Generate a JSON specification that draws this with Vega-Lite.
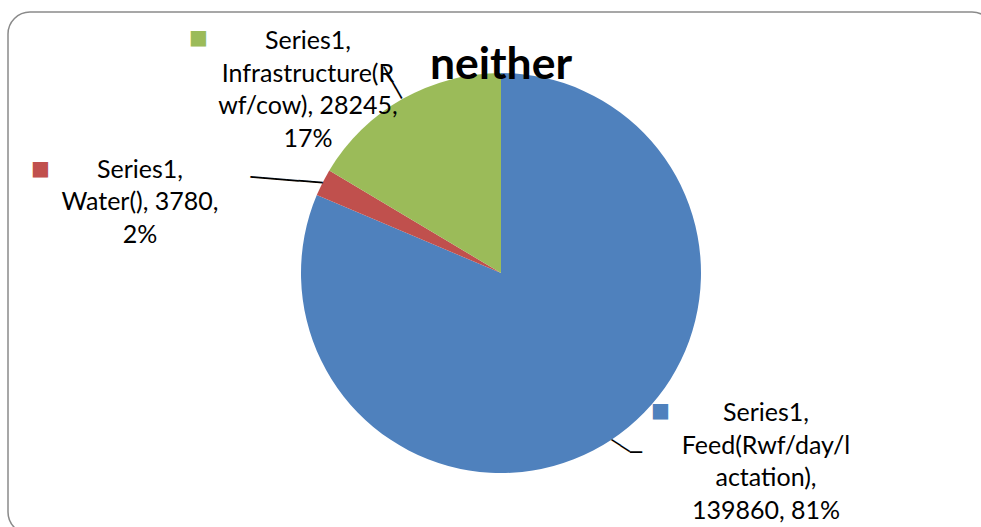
{
  "$schema": "https://vega.github.io/schema/vega-lite/v6.json",
  "width": 986,
  "height": 522,
  "padding": {"left": 8, "top": 12, "right": -13, "bottom": -7},
  "autosize": {"type": "none"},
  "background": "white",
  "view": {"stroke": "#8a8a8a", "strokeWidth": 1.5, "cornerRadius": 22, "fill": "white"},
  "title": {"text": "neither", "font": "Lato", "fontSize": 44.5, "fontWeight": "bold", "color": "black", "anchor": "middle", "frame": "group", "baseline": "alphabetic", "offset": -111},
  "data": {"values": [
    {"cat": "Feed", "value": 139860, "idx": 1, "label": "Series1,\nFeed(Rwf/day/l\nactation),\n139860, 81%"},
    {"cat": "Water", "value": 3780, "idx": 2, "label": "Series1,\nWater(), 3780,\n2%"},
    {"cat": "Infra", "value": 28245, "idx": 3, "label": "Series1,\nInfrastructure(R\nwf/cow), 28245,\n17%"}
  ]},
  "encoding": {
    "theta": {"field": "value", "type": "quantitative", "stack": true},
    "order": {"field": "idx", "type": "quantitative"}
  },
  "layer": [
    {"mark": {"type": "arc", "radius": 200},
     "encoding": {"color": {"field": "cat", "type": "nominal", "scale": {"domain": ["Feed", "Water", "Infra"], "range": ["#4F81BD", "#C0504D", "#9BBB59"]}, "legend": null}}},
    {"mark": {"type": "text", "radius": 200, "dx": 154.5, "dy": -26.7, "align": "center", "baseline": "middle", "lineBreak": "\n", "font": "Lato", "fontSize": 25, "lineHeight": 32.5, "color": "black"},
     "encoding": {"text": {"condition": {"test": "datum.cat === 'Feed'", "field": "label"}, "value": ""}}},
    {"mark": {"type": "text", "radius": 200, "dx": -182.6, "dy": -13, "align": "center", "baseline": "middle", "lineBreak": "\n", "font": "Lato", "fontSize": 25, "lineHeight": 32.5, "color": "black"},
     "encoding": {"text": {"condition": {"test": "datum.cat === 'Water'", "field": "label"}, "value": ""}}},
    {"mark": {"type": "text", "radius": 200, "dx": -94.3, "dy": -58, "align": "center", "baseline": "middle", "lineBreak": "\n", "font": "Lato", "fontSize": 25, "lineHeight": 32.5, "color": "black"},
     "encoding": {"text": {"condition": {"test": "datum.cat === 'Infra'", "field": "label"}, "value": ""}}},
    {"mark": {"type": "text", "radius": 200, "dx": 49, "dy": -29.2, "align": "center", "baseline": "middle", "font": "DejaVu Sans", "fontSize": 20},
     "encoding": {"text": {"condition": {"test": "datum.cat === 'Feed'", "value": "■"}, "value": ""},
       "color": {"field": "cat", "type": "nominal", "scale": {"domain": ["Feed", "Water", "Infra"], "range": ["#4F81BD", "#C0504D", "#9BBB59"]}, "legend": null}}},
    {"mark": {"type": "text", "radius": 200, "dx": -282.1, "dy": -14, "align": "center", "baseline": "middle", "font": "DejaVu Sans", "fontSize": 20},
     "encoding": {"text": {"condition": {"test": "datum.cat === 'Water'", "value": "■"}, "value": ""},
       "color": {"field": "cat", "type": "nominal", "scale": {"domain": ["Feed", "Water", "Infra"], "range": ["#4F81BD", "#C0504D", "#9BBB59"]}, "legend": null}}},
    {"mark": {"type": "text", "radius": 200, "dx": -203.8, "dy": -60.6, "align": "center", "baseline": "middle", "font": "DejaVu Sans", "fontSize": 20},
     "encoding": {"text": {"condition": {"test": "datum.cat === 'Infra'", "value": "■"}, "value": ""},
       "color": {"field": "cat", "type": "nominal", "scale": {"domain": ["Feed", "Water", "Infra"], "range": ["#4F81BD", "#C0504D", "#9BBB59"]}, "legend": null}}},
    {"mark": {"type": "text", "radius": 219, "angle": 60.4, "align": "center", "baseline": "alphabetic", "dy": 7, "font": "DejaVu Sans", "fontSize": 20, "color": "black"},
     "encoding": {"text": {"condition": {"test": "datum.cat === 'Infra'", "value": "───"}, "value": ""}}},
    {"mark": {"type": "text", "radius": 200, "angle": 4.6, "align": "right", "baseline": "alphabetic", "dy": 7, "font": "DejaVu Sans", "fontSize": 20, "color": "black"},
     "encoding": {"text": {"condition": {"test": "datum.cat === 'Water'", "value": "──────"}, "value": ""}}},
    {"mark": {"type": "text", "radius": 200, "angle": 33.6, "align": "left", "baseline": "alphabetic", "dy": 6, "font": "DejaVu Sans", "fontSize": 18, "color": "black"},
     "encoding": {"text": {"condition": {"test": "datum.cat === 'Feed'", "value": "──"}, "value": ""}}},
    {"mark": {"type": "text", "radius": 200, "align": "left", "baseline": "alphabetic", "dx": 18.5, "dy": 19.3, "font": "DejaVu Sans", "fontSize": 20, "color": "black"},
     "encoding": {"text": {"condition": {"test": "datum.cat === 'Feed'", "value": "─"}, "value": ""}}}
  ]
}
